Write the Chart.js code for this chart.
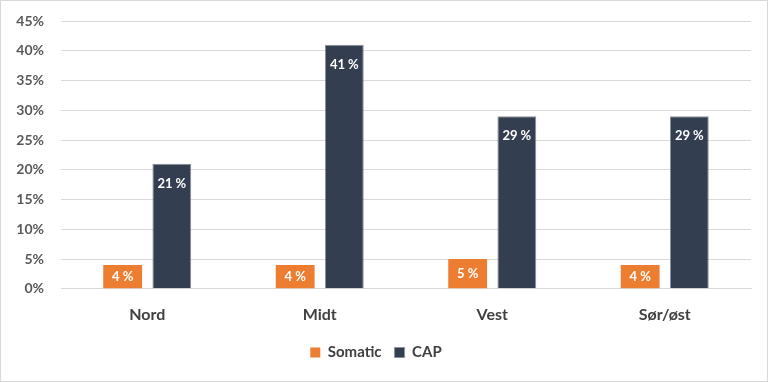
<!DOCTYPE html>
<html>
<head>
<meta charset="utf-8">
<script src="https://cdn.jsdelivr.net/npm/chart.js@4"></script>
<style>
  html, body { margin: 0; padding: 0; background: #fff; }
  #wrap { position: relative; width: 766px; height: 380px; border: 1px solid #d9d9d9; }
</style>
</head>
<body>
<div id="wrap"><canvas id="regionChart" width="766" height="380"></canvas></div>
<script>
// data
const regions = ['Nord', 'Midt', 'Vest', 'Sør/øst'];
const somatic = [4, 4, 5, 4];
const cap = [21, 41, 29, 29];
const yTicks = [0, 5, 10, 15, 20, 25, 30, 35, 40, 45];

const FONT = 'Lato, "Open Sans", sans-serif';

// white labels inside the bars
const barLabels = {
  id: 'barLabels',
  afterDatasetsDraw(chart) {
    const ctx = chart.ctx;
    ctx.save();
    ctx.fillStyle = '#ffffff';
    ctx.font = 'bold 13px ' + FONT;
    ctx.textAlign = 'center';
    ctx.textBaseline = 'middle';
    chart.data.datasets.forEach((ds, i) => {
      chart.getDatasetMeta(i).data.forEach((bar, j) => {
        const top = bar.y, base = bar.base;
        const y = Math.min(top + 20, (top + base) / 2);
        ctx.fillText(ds.data[j] + ' %', bar.x, y);
      });
    });
    ctx.restore();
  }
};

const config = {
  type: 'bar',
  data: {
    labels: regions,
    datasets: [
      {
        label: 'Somatic',
        data: somatic,
        backgroundColor: '#ED7D31',
        borderWidth: 0,
        categoryPercentage: 0.57,
        barPercentage: 0.79
      },
      {
        label: 'CAP',
        data: cap,
        backgroundColor: '#333F50',
        borderColor: '#8a909a',
        borderWidth: 1,
        categoryPercentage: 0.57,
        barPercentage: 0.79
      }
    ]
  },
  options: {
    responsive: false,
    animation: false,
    layout: { padding: { top: 20, right: 16, left: 0, bottom: 11 } },
    scales: {
      x: {
        grid: { display: false },
        border: { color: '#d9d9d9' },
        ticks: { color: '#404040', font: { family: FONT, size: 16, weight: 'bold' }, padding: 8 }
      },
      y: {
        min: 0,
        max: 45,
        afterBuildTicks(scale) {
          scale.ticks = yTicks.map(v => ({ value: v }));
        },
        afterFit(scale) {
          scale.width = 60;
          // tick padding also pads the scale vertically; drop that
          scale.paddingTop = 0;
        },
        grid: { color: '#d9d9d9', drawTicks: false },
        border: { display: false },
        ticks: {
          color: '#595959',
          padding: 17,
          font: { family: FONT, size: 14, weight: 'bold' },
          callback: v => v + '%'
        }
      }
    },
    plugins: {
      legend: {
        position: 'bottom',
        labels: {
          color: '#404040',
          boxWidth: 10,
          boxHeight: 10,
          padding: 13,
          font: { family: FONT, size: 15, weight: 'bold' }
        }
      },
      tooltip: { enabled: false }
    }
  },
  plugins: [barLabels]
};

const regionChart = new Chart(document.getElementById('regionChart'), config);
</script>
</body>
</html>
